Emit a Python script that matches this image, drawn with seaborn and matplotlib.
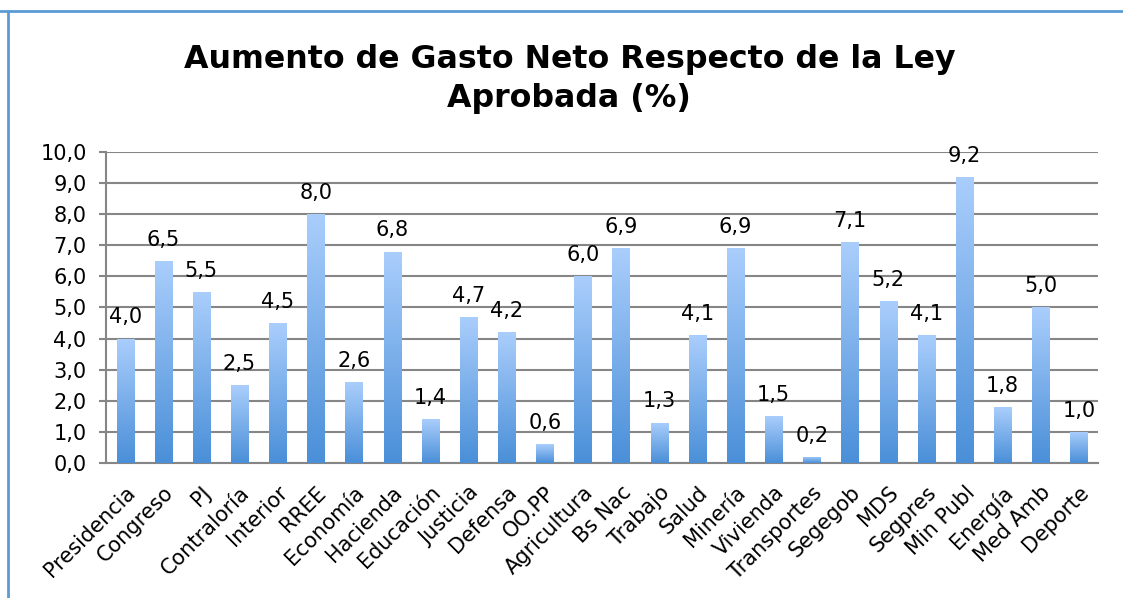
import numpy as np
import pandas as pd
import seaborn as sns
import matplotlib.pyplot as plt
import matplotlib.transforms as mtransforms
from matplotlib.colors import LinearSegmentedColormap
from matplotlib.lines import Line2D

ministerios = ["Presidencia", "Congreso", "PJ", "Contraloría", "Interior", "RREE",
               "Economía", "Hacienda", "Educación", "Justicia", "Defensa", "OO.PP",
               "Agricultura", "Bs Nac", "Trabajo", "Salud", "Minería", "Vivienda",
               "Transportes", "Segegob", "MDS", "Segpres", "Min Publ", "Energía",
               "Med Amb", "Deporte"]
aumento = [4.0, 6.5, 5.5, 2.5, 4.5, 8.0, 2.6, 6.8, 1.4, 4.7, 4.2, 0.6, 6.0, 6.9,
           1.3, 4.1, 6.9, 1.5, 0.2, 7.1, 5.2, 4.1, 9.2, 1.8, 5.0, 1.0]
yticks = np.arange(0, 10.1, 1.0)

df = pd.DataFrame({"ministerio": ministerios, "aumento": aumento})

sns.set_style("white")
plt.rcParams["font.family"] = ["DejaVu Sans"]
plt.rcParams["text.color"] = "black"
plt.rcParams["xtick.color"] = "black"
plt.rcParams["ytick.color"] = "black"

fig = plt.figure(figsize=(11.23, 5.98), dpi=100)
ax = fig.add_axes([0.0944, 0.2258, 0.8833, 0.52])

sns.barplot(data=df, x="ministerio", y="aumento", color="#6aa6e6",
            width=0.45, ax=ax, zorder=3)

# gradient fill, light on top, darker at bottom
cmap = LinearSegmentedColormap.from_list("grad", ["#4a8fd8", "#aacefc"])
grad = np.linspace(0, 1, 256).reshape(-1, 1)
for bar in ax.patches:
    x0, y0 = bar.get_x(), bar.get_y()
    w, h = bar.get_width(), bar.get_height()
    bar.set_facecolor("none")
    bar.set_edgecolor("none")
    im = ax.imshow(grad, cmap=cmap, origin="lower", aspect="auto",
                   extent=[x0, x0 + w, y0, y0 + h], zorder=3)
    im.set_clip_path(bar)

for i, v in enumerate(aumento):
    ax.annotate(f"{v:.1f}".replace(".", ","), (i, v), xytext=(0, 8),
                textcoords="offset points", ha="center", va="bottom",
                fontsize=15, color="black")

ax.set_xlim(-0.5, len(ministerios) - 0.5)
ax.set_ylim(0, 10)
ax.set_yticks(yticks)
ax.set_yticklabels([f"{t:.1f}".replace(".", ",") for t in yticks], fontsize=15)
ax.set_xticks(range(len(ministerios)))
ax.set_xticklabels(ministerios, rotation=45, ha="right", rotation_mode="anchor",
                   fontsize=15)
shift = mtransforms.ScaledTranslation(-5 / 100, 0, fig.dpi_scale_trans)
for lbl in ax.get_xticklabels():
    lbl.set_transform(lbl.get_transform() + shift)
ax.set_xticks(np.arange(-0.5, len(ministerios), 1.0), minor=True)
ax.tick_params(axis="x", which="major", length=0, pad=14)
ax.tick_params(axis="x", which="minor", length=5, width=1.5, color="#868686")
ax.tick_params(axis="y", length=5, width=1.5, color="#868686", left=True, pad=9)

ax.grid(axis="y", color="#868686", linewidth=1.5, zorder=0)
ax.set_axisbelow(True)
for s in ["top", "right"]:
    ax.spines[s].set_visible(False)
for s in ["left", "bottom"]:
    ax.spines[s].set_color("#868686")
    ax.spines[s].set_linewidth(1.5)
ax.set_xlabel("")
ax.set_ylabel("")

fig.text(0.507, 0.868, "Aumento de Gasto Neto Respecto de la Ley\nAprobada (%)",
         ha="center", va="center", fontsize=22.8, fontweight="bold",
         linespacing=1.3, color="black")

# chart border (top and left visible)
ytop = 1 - 10.5 / 598
xleft = 8 / 1123
fig.add_artist(Line2D([0, 1], [ytop, ytop], color="#5b9bd5", linewidth=2))
fig.add_artist(Line2D([xleft, xleft], [0, ytop], color="#5b9bd5", linewidth=2))

fig.savefig("out.png", dpi=100)
